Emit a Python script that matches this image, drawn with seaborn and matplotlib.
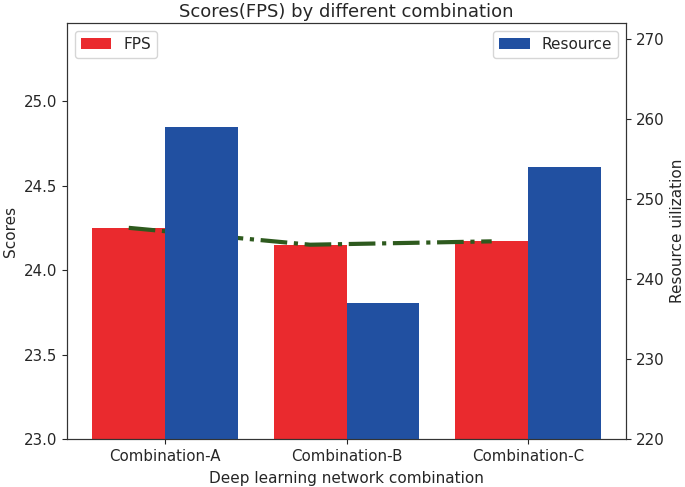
import matplotlib
matplotlib.use("Agg")
import matplotlib.pyplot as plt
import seaborn as sns
import pandas as pd
import numpy as np

categories = ["Combination-A", "Combination-B", "Combination-C"]
fps = [24.25, 24.15, 24.17]
resource = [259, 237, 254]
line_vals = [24.25, 24.15, 24.17]

sns.set_style("ticks")
plt.rcParams["font.family"] = ["DejaVu Sans"]

red = "#EA2A2E"
blue = "#2150A1"
green = "#2E5A1E"

fig = plt.figure(figsize=(6.85, 4.87), dpi=100)
ax1 = fig.add_axes([67/685, 1-439/487, (626-67)/685, (439-23)/487])

df_fps = pd.DataFrame({"cat": categories, "series": "FPS", "value": fps})
df_res = pd.DataFrame({"cat": categories, "series": "Resource", "value": resource})

sns.barplot(data=df_fps, x="cat", y="value", hue="series",
            hue_order=["FPS", "Resource"], order=categories,
            palette={"FPS": red, "Resource": blue}, dodge=True,
            width=0.8, saturation=1, ax=ax1, errorbar=None, linewidth=0)
pos = np.arange(len(categories))
sns.lineplot(x=pos - 0.2, y=line_vals, ax=ax1, color=green, lw=3,
             linestyle="-.", zorder=5, legend=False)
ax1.set_ylim(23.0, max(fps) * 1.05)
ax1.set_ylabel("Scores", fontsize=11)
ax1.set_xlabel("Deep learning network combination", fontsize=11, labelpad=5)
ax1.set_title("Scores(FPS) by different combination", fontsize=13, pad=4)
ax1.tick_params(labelsize=10.8)
h1 = [p for p in ax1.patches][:1]
ax1.legend(handles=h1, labels=["FPS"], loc="upper left", fontsize=11)

ax2 = ax1.twinx()
sns.barplot(data=df_res, x="cat", y="value", hue="series",
            hue_order=["FPS", "Resource"], order=categories,
            palette={"FPS": red, "Resource": blue}, dodge=True,
            width=0.8, saturation=1, ax=ax2, errorbar=None, linewidth=0)
ax2.set_ylim(220, max(resource) * 1.05)
ax2.set_ylabel("Resource uilization", fontsize=11, labelpad=4)
ax2.tick_params(labelsize=10.8)
h2 = [p for p in ax2.patches if p.get_height() > 0][:1]
ax2.legend(handles=h2, labels=["Resource"], loc="upper right", fontsize=11)

for ax in (ax1, ax2):
    ax.set_xlim(-0.54, 2.54)
    for s in ax.spines.values():
        s.set_color("#333333")
ax1.set_xticks(pos)
ax1.set_xticklabels(categories)

fig.savefig("out.png", dpi=100)
